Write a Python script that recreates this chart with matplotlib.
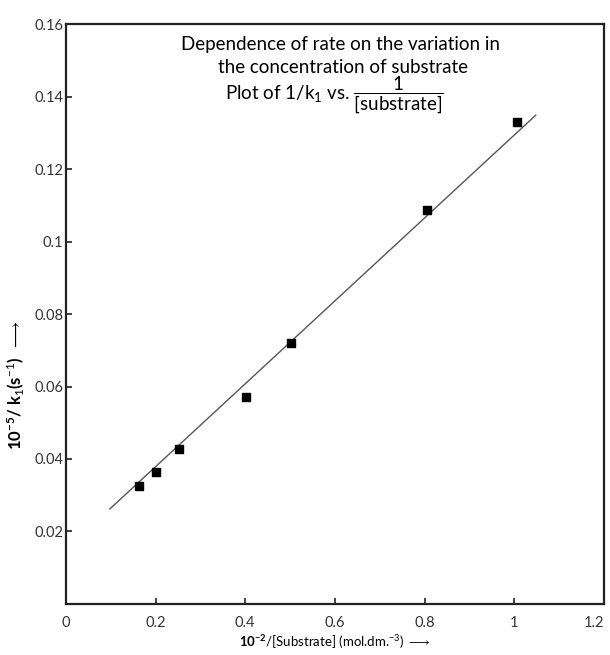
import numpy as np
import matplotlib
matplotlib.use("Agg")
import matplotlib.pyplot as plt

plt.rcParams['font.family'] = ['Lato', 'DejaVu Sans']
plt.rcParams['mathtext.fontset'] = 'custom'
plt.rcParams['mathtext.rm'] = 'Lato'
plt.rcParams['mathtext.it'] = 'Lato'
plt.rcParams['mathtext.bf'] = 'Lato:bold'

# --------- Data ----------
inv_substrate = [0.163, 0.200, 0.252, 0.401, 0.502, 0.805, 1.006]
inv_k1 = [0.0326, 0.0364, 0.0428, 0.0571, 0.0720, 0.1087, 0.1330]

# fitted line as drawn in the original (end points)
fit_x = [0.098, 1.048]
fit_y = [0.0262, 0.1349]

xticks = [0, 0.2, 0.4, 0.6, 0.8, 1, 1.2]
xticklabels = ['0', '0.2', '0.4', '0.6', '0.8', '1', '1.2']
yticks = [0.02, 0.04, 0.06, 0.08, 0.1, 0.12, 0.14, 0.16]
yticklabels = ['0.02', '0.04', '0.06', '0.08', '0.1', '0.12', '0.14', '0.16']

# --------- Figure ----------
fig = plt.figure(figsize=(6.10, 6.55), dpi=100, facecolor="white")
ax = fig.add_axes([0.108, 0.078, 0.882, 0.885])

ax.plot(fit_x, fit_y, color='#555555', lw=1.0)
ax.scatter(inv_substrate, inv_k1, marker='s', s=40, color='black', zorder=3)

ax.set_xlim(0, 1.2)
ax.set_ylim(0, 0.16)
ax.set_xticks(xticks)
ax.set_xticklabels(xticklabels)
ax.set_yticks(yticks)
ax.set_yticklabels(yticklabels)
ax.tick_params(direction='in', length=4, width=1.2, labelsize=10.5,
               labelcolor='#333333', colors='#222222')
ax.tick_params(axis='x', pad=9)
ax.tick_params(axis='y', pad=2)
for s in ax.spines.values():
    s.set_linewidth(1.6)
    s.set_color('#222222')

# "0" at the origin sits low-left, "1.2" tucked in at the right edge
xl = ax.get_xticklabels()
xl[0].set_x(-0.02)
xl[-1].set_horizontalalignment('right')
xl[-1].set_x(1.205)

ax.set_xlabel(r'$\mathbf{10^{-2}}$/[Substrate] (mol.dm.$^{-3}$) $\longrightarrow$',
              fontsize=9.5, labelpad=2, color='black')
ax.set_ylabel(r'$\mathbf{10^{-5}}$/ k$_1$(s$^{-1}$)  $\longrightarrow$',
              fontsize=12, fontweight='bold', labelpad=6, color='black')
ax.yaxis.set_label_coords(-0.075, 0.378)

# --------- Title inside plot ----------
ax.text(0.51, 0.965, 'Dependence of rate on the variation in',
        transform=ax.transAxes, ha='center', va='center', fontsize=13.5)
ax.text(0.515, 0.925, 'the concentration of substrate',
        transform=ax.transAxes, ha='center', va='center', fontsize=13.5)
ax.text(0.50, 0.878, r'Plot of $1/\mathrm{k}_1$ vs. $\dfrac{1}{\mathrm{[substrate]}}$',
        transform=ax.transAxes, ha='center', va='center', fontsize=13.5)

fig.savefig("out.png", dpi=100)
